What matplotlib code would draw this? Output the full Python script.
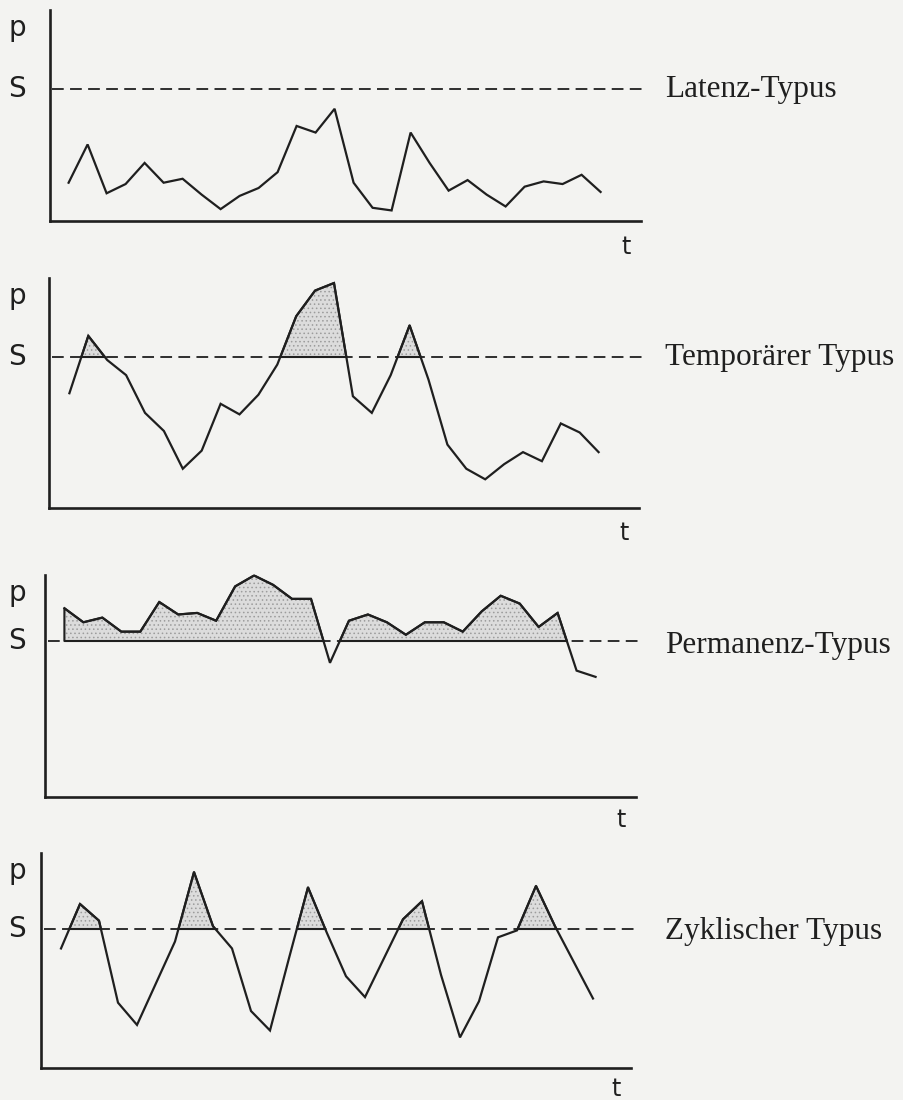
import matplotlib
matplotlib.use("Agg")
import matplotlib.pyplot as plt
import numpy as np

# ---- data (p values, threshold S = 1.0) ----
t = list(range(29))
latenz = [0.29, 0.58, 0.21, 0.28, 0.44, 0.29, 0.32, 0.20, 0.09, 0.19, 0.25, 0.37, 0.72, 0.67, 0.85,
          0.29, 0.10, 0.08, 0.67, 0.44, 0.23, 0.31, 0.20, 0.11, 0.26, 0.30, 0.28, 0.35, 0.22]
temporaer = [0.76, 1.14, 0.98, 0.88, 0.63, 0.51, 0.26, 0.38, 0.69, 0.62, 0.75, 0.95, 1.27, 1.44, 1.49,
             0.74, 0.63, 0.88, 1.21, 0.85, 0.42, 0.26, 0.19, 0.29, 0.37, 0.31, 0.56, 0.50, 0.37]
permanenz = [1.21, 1.12, 1.15, 1.06, 1.06, 1.25, 1.17, 1.18, 1.13, 1.35, 1.42, 1.36, 1.27, 1.27, 0.86,
             1.13, 1.17, 1.12, 1.04, 1.12, 1.12, 1.06, 1.19, 1.29, 1.24, 1.09, 1.18, 0.81, 0.77]
zyklisch = [0.86, 1.18, 1.06, 0.47, 0.31, 0.61, 0.91, 1.41, 1.02, 0.86, 0.41, 0.27, 0.79, 1.30, 0.97,
            0.66, 0.51, 0.79, 1.07, 1.20, 0.67, 0.22, 0.48, 0.94, 0.99, 1.31, 1.02, 0.76, 0.50]
S = 1.0
titles = ["Latenz-Typus", "Temporärer Typus", "Permanenz-Typus", "Zyklischer Typus"]
series = [latenz, temporaer, permanenz, zyklisch]
shade = [False, True, True, True]

# ---- layout (pixel geometry of each panel) ----
W, H = 904, 1100
# yaxis_x, first_x, step, xend, axis_y, S_y, top_y, title_dy, t_dy
geom = [
    (49.6, 68.6, 19.0, 640.6, 221, 89, 10, 0, 26),
    (49.0, 69.4, 18.9, 639.0, 508, 357, 278, 1, 25),
    (45.5, 64.4, 18.97, 636.0, 797, 641, 575, 4, 23),
    (41.2, 61.0, 19.0, 631.0, 1068, 929, 853, 3, 21),
]

bg = "#f3f3f1"
ink = "#1f1f1f"
fill_c = "#dcdcdc"

fig = plt.figure(figsize=(W / 100, H / 100), dpi=100, facecolor=bg)
plt.rcParams["hatch.linewidth"] = 0.6

for k, (vals, title, sh, g) in enumerate(zip(series, titles, shade, geom)):
    yx, fx, step, xend, ay, sy, ty, tdy, tt = g
    xmin = (yx - fx) / step
    xmax = (xend - fx) / step
    ymax = (ay - ty) / (ay - sy)
    ax = fig.add_axes([yx / W, 1 - ay / H, (xend - yx) / W, (ay - ty) / H])
    ax.set_facecolor("none")
    ax.set_xlim(xmin, xmax)
    ax.set_ylim(0, ymax)
    for sp in ["top", "right"]:
        ax.spines[sp].set_visible(False)
    for sp in ["left", "bottom"]:
        ax.spines[sp].set_linewidth(1.9)
        ax.spines[sp].set_color(ink)
    ax.set_xticks([])
    ax.set_yticks([])

    x = np.array(t, dtype=float)
    y = np.array(vals)
    # threshold line
    ax.plot([xmin + 0.15, xmax + 0.2], [S, S], color=ink, lw=1.3,
            dashes=(6.5, 3.5), clip_on=False)
    if sh:
        ax.fill_between(x, y, S, where=y > S, interpolate=True,
                        facecolor=fill_c, edgecolor="#9c9c9c", hatch="....", lw=0)
        ax.fill_between(x, y, S, where=y > S, interpolate=True,
                        facecolor="none", edgecolor=ink, lw=1.5)
    ax.plot(x, y, color=ink, lw=1.6, solid_joinstyle="miter", clip_on=False)

    # labels
    fig.text(17 / W, 1 - (ty + 18) / H, "p", fontsize=20, color=ink,
             ha="center", va="center", family="DejaVu Sans")
    fig.text(17 / W, 1 - sy / H, "S", fontsize=20, color=ink,
             ha="center", va="center", family="DejaVu Sans")
    fig.text((xend - 15) / W, 1 - (ay + tt) / H, "t", fontsize=17, color=ink,
             ha="center", va="center", family="DejaVu Sans")
    fig.text(665 / W, 1 - (sy + tdy) / H, title, fontsize=22.5, color=ink,
             ha="left", va="center", family="Liberation Serif")

fig.savefig("out.png", dpi=100, facecolor=bg)
